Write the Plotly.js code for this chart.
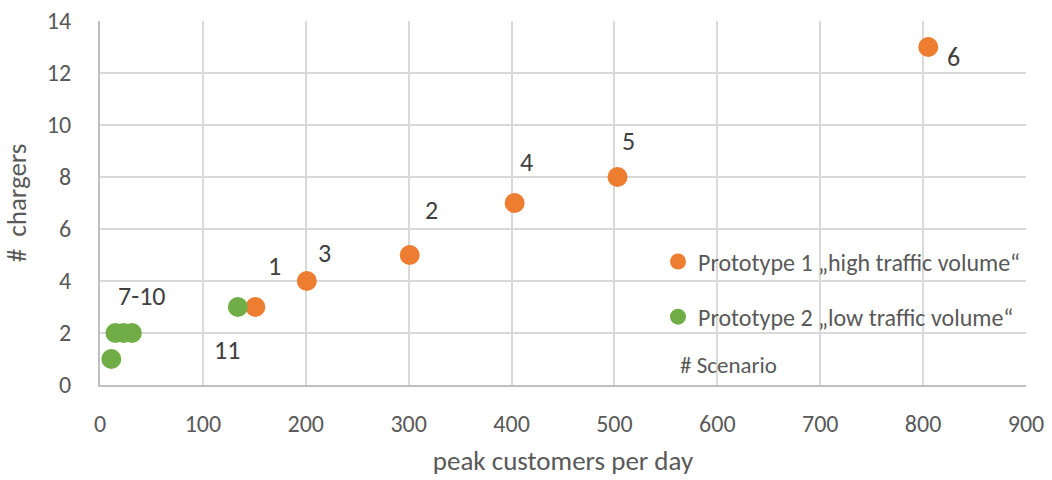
<!DOCTYPE html>
<html>
<head>
<meta charset="utf-8">
<script src="https://cdn.plot.ly/plotly-3.0.1.min.js"></script>
<style>html,body{margin:0;padding:0;background:#fff;}#chart{width:1052px;height:480px;}</style>
</head>
<body>
<div id="chart"></div>
<script>
// Prototype 1 "high traffic volume"
const p1Customers = [151, 301, 201, 403, 503, 805];
const p1Chargers  = [3, 5, 4, 7, 8, 13];
const p1Scenario  = ["1", "2", "3", "4", "5", "6"];
// Prototype 2 "low traffic volume"
const p2Customers = [11, 15, 23, 31, 134];
const p2Chargers  = [1, 2, 2, 2, 3];
// Scenario labels for prototype 2 (grouped 7-10, 11)
const p2LabelX = [23, 134];
const p2LabelY = [2, 3];
const p2LabelText = ["7-10", "11"];

const xTicks = [0, 100, 200, 300, 400, 500, 600, 700, 800, 900];
const yTicks = [0, 2, 4, 6, 8, 10, 12, 14];

const FONT = "Calibri, Carlito, Lato, 'Open Sans', sans-serif";
const ORANGE = "#ED7D31", GREEN = "#70AD47";

// label offsets (pixels) for labels, by index
const p1Shift = [[19, 41], [22, 45], [18, 28], [12, 41], [11, 36], [25, -10]];
const p2Shift = [[18, 37], [-11, -43]];

const annotations = [];
p1Customers.forEach((x, i) => {
  annotations.push({x: x, y: p1Chargers[i], xref: 'x', yref: 'y', text: p1Scenario[i],
    showarrow: false, xshift: p1Shift[i][0], yshift: p1Shift[i][1],
    font: {family: FONT, size: 26, color: '#404040'}});
});
p2LabelX.forEach((x, i) => {
  annotations.push({x: x, y: p2LabelY[i], xref: 'x', yref: 'y', text: p2LabelText[i],
    showarrow: false, xshift: p2Shift[i][0], yshift: p2Shift[i][1],
    font: {family: FONT, size: 26, color: '#404040'}});
});
annotations.push({xref: 'paper', yref: 'paper', x: 0.624, y: 0.056, xanchor: 'left', yanchor: 'middle',
  text: '# Scenario', showarrow: false, font: {family: FONT, size: 23, color: '#595959'}});

const traces = [
  {type: 'scatter', mode: 'markers', name: 'Prototype 1 „high traffic volume“',
   x: p1Customers, y: p1Chargers, legendgroup: 'a',
   marker: {color: ORANGE, size: 20}, hoverinfo: 'x+y'},
  {type: 'scatter', mode: 'markers', name: 'Prototype 2 „low traffic volume“',
   x: p2Customers, y: p2Chargers, legendgroup: 'b',
   marker: {color: GREEN, size: 20}, hoverinfo: 'x+y'}
];

const layout = {
  width: 1052, height: 480,
  margin: {l: 100, r: 26, t: 21, b: 95},
  paper_bgcolor: '#fff', plot_bgcolor: '#fff',
  font: {family: FONT, color: '#595959'},
  showlegend: true,
  legend: {x: 0.6026, y: 0.40, xanchor: 'left', yanchor: 'top', bgcolor: 'rgba(0,0,0,0)',
    font: {family: FONT, size: 24, color: '#595959'}, tracegroupgap: 21, traceorder: 'grouped'},
  xaxis: {range: [0, 900], tickvals: xTicks, ticktext: xTicks.map(String),
    showgrid: true, gridcolor: '#d9d9d9', gridwidth: 2, zeroline: false,
    showline: true, linecolor: '#bfbfbf', linewidth: 2, ticks: '', ticklabelstandoff: 16,
    tickfont: {family: FONT, size: 24, color: '#595959'},
    title: {text: 'peak customers per day', font: {family: FONT, size: 27, color: '#595959'}, standoff: 14}},
  yaxis: {range: [0, 14], tickvals: yTicks, ticktext: yTicks.map(String),
    showgrid: true, gridcolor: '#d9d9d9', gridwidth: 2, zeroline: false,
    showline: true, linecolor: '#bfbfbf', linewidth: 2, ticks: '', ticklabelstandoff: 22,
    tickfont: {family: FONT, size: 24, color: '#595959'},
    title: {text: '#\u00a0 chargers', font: {family: FONT, size: 27, color: '#595959'}, standoff: 12}},
  annotations: annotations
};

Plotly.newPlot('chart', traces, layout, {displayModeBar: false, staticPlot: true});
</script>
</body>
</html>
